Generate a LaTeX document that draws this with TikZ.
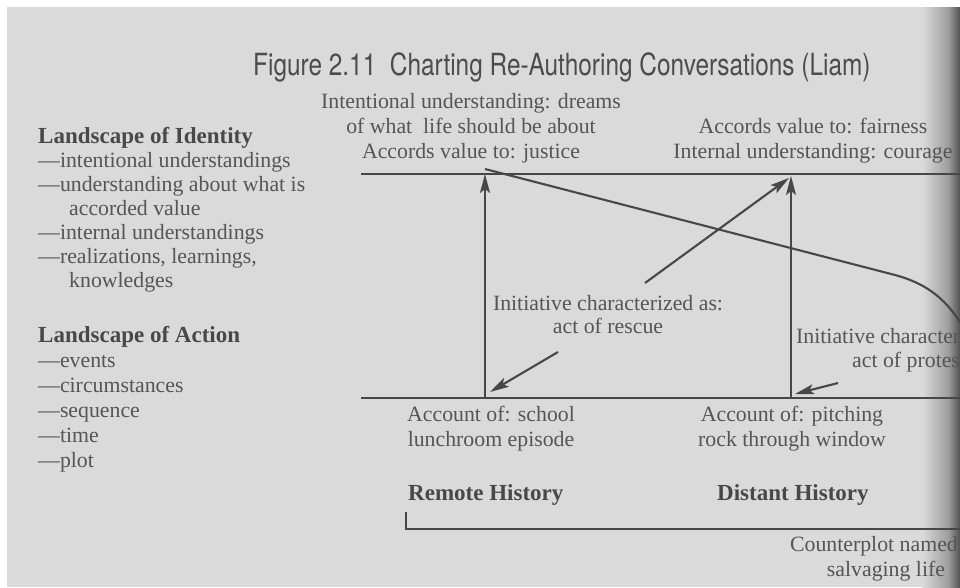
\documentclass[tikz,border=0pt]{standalone}
\usepackage{fontspec}
\setmainfont{Liberation Serif}
\newfontfamily\headfont[FakeStretch=0.8]{TeX Gyre Heros}
\usetikzlibrary{arrows.meta}
\definecolor{paper}{HTML}{DADADA}
\definecolor{ink}{HTML}{555555}
\definecolor{rulec}{HTML}{474747}
\begin{document}
\begin{tikzpicture}[x=1pt,y=-1pt,
  txt/.style={inner sep=0pt, text=ink, font=\fontsize{21.8}{25}\selectfont},
  hd/.style={inner sep=0pt, text=ink!85!black, font=\fontsize{23}{26}\selectfont\bfseries},
  axis/.style={draw=rulec, line width=2.3pt},
  arr/.style={draw=rulec, line width=2.1pt, -{Stealth[length=19pt,width=10pt,inset=4pt]}},
]
% page with the darkened binding edge on the right
\fill[white] (0,0) rectangle (960,587);
\fill[paper] (7,7) rectangle (960,587);
\shade[left color=paper, right color=black!38] (922,7) rectangle (948,587);
\shade[left color=black!38, right color=black!68] (948,7) rectangle (960,587);
\useasboundingbox (0,0) rectangle (960,587);

% heading
\node[anchor=base west, inner sep=0pt, text=ink!90!black,
      font=\headfont\fontsize{30.5}{34}\selectfont] (title) at (253,75)
  {Figure 2.11\ \ Charting Re-Authoring Conversations (Liam)};

% legend: landscape of identity
\node[hd, anchor=base west] (idhead) at (38,143) {Landscape of Identity};
\foreach \i/\x/\y/\t in {1/38/167/{---intentional understandings},
                         2/38/191/{---understanding about what is},
                         3/69/215/{accorded value},
                         4/38/239/{---internal understandings},
                         5/38/263/{---realizations, learnings,},
                         6/69/287/{knowledges}}
  \node[txt, anchor=base west] (id\i) at (\x,\y) {\t};

% legend: landscape of action
\node[hd, anchor=base west] (achead) at (38,342) {Landscape of Action};
\foreach \i/\y/\t in {1/367/{---events}, 2/392/{---circumstances},
                      3/417/{---sequence}, 4/442/{---time}, 5/467/{---plot}}
  \node[txt, anchor=base west] (ac\i) at (38,\y) {\t};

% identity labels above the upper line
\node[txt, anchor=base] (lbA1) at (471,108) {Intentional understanding: dreams};
\node[txt, anchor=base] (lbA2) at (471,133) {of what\ \ life should be about};
\node[txt, anchor=base] (lbA3) at (471,158) {Accords value to: justice};
\node[txt, anchor=base] (lbB1) at (813,133) {Accords value to: fairness};
\node[txt, anchor=base] (lbB2) at (813,158) {Internal understanding: courage};

% initiative labels between the lines
\node[txt, anchor=base] (inA1) at (608,310) {Initiative characterized as:};
\node[txt, anchor=base] (inA2) at (608,333) {act of rescue};
\node[txt, anchor=base west] (inB1) at (796,343) {Initiative characterized as:};
\node[txt, anchor=base west] (inB2) at (852,367) {act of protest};

% action labels below the lower line
\node[txt, anchor=base] (acA1) at (491,421) {Account of: school};
\node[txt, anchor=base] (acA2) at (491,446) {lunchroom episode};
\node[txt, anchor=base] (acB1) at (792,421) {Account of: pitching};
\node[txt, anchor=base] (acB2) at (792,446) {rock through window};

% history labels
\node[hd, anchor=base west] (remote) at (408,500) {Remote History};
\node[hd, anchor=base west] (distant) at (717,500) {Distant History};
\node[txt, anchor=base east] (cp1) at (958,551) {Counterplot named};
\node[txt, anchor=base] (cp2) at (886,576) {salvaging life};

% landscape lines
\coordinate (topL) at (361,174);
\coordinate (topR) at (965,174);
\coordinate (botL) at (361,398);
\coordinate (botR) at (965,398);
\draw[axis] (topL) -- (topR);
\draw[axis] (botL) -- (botR);

% time bracket
\coordinate (brTop) at (406,512);
\coordinate (brCorner) at (406,529);
\coordinate (brEnd) at (965,529);
\draw[axis, line width=1.9pt] (brTop) -- (brCorner) -- (brEnd);

% counterplot line
\coordinate (cpStart) at (485,169);
\coordinate (cpBend) at (895,275);
\coordinate (cpEnd) at (966,332);
\draw[axis, line width=2.1pt] (cpStart) -- (cpBend)
  .. controls (928,284) and (948,300) .. (cpEnd);

% zig-zag arrows
\coordinate (rootA) at (485,398);
\coordinate (tipA) at (485,174);
\coordinate (rootB) at (791,398);
\coordinate (tipB) at (791,176);
\coordinate (rescueFrom) at (645,283);
\coordinate (tipC) at (789,178);
\coordinate (rescueTail) at (558,352);
\coordinate (rescueTip) at (490,392);
\coordinate (protestTail) at (838,383);
\coordinate (protestTip) at (795,394);
\draw[arr] (rootA) -- (tipA);
\draw[arr] (rootB) -- (tipB);
\draw[arr] (rescueFrom) -- (tipC);
\draw[arr] (rescueTail) -- (rescueTip);
\draw[arr] (protestTail) -- (protestTip);
\end{tikzpicture}
\end{document}
